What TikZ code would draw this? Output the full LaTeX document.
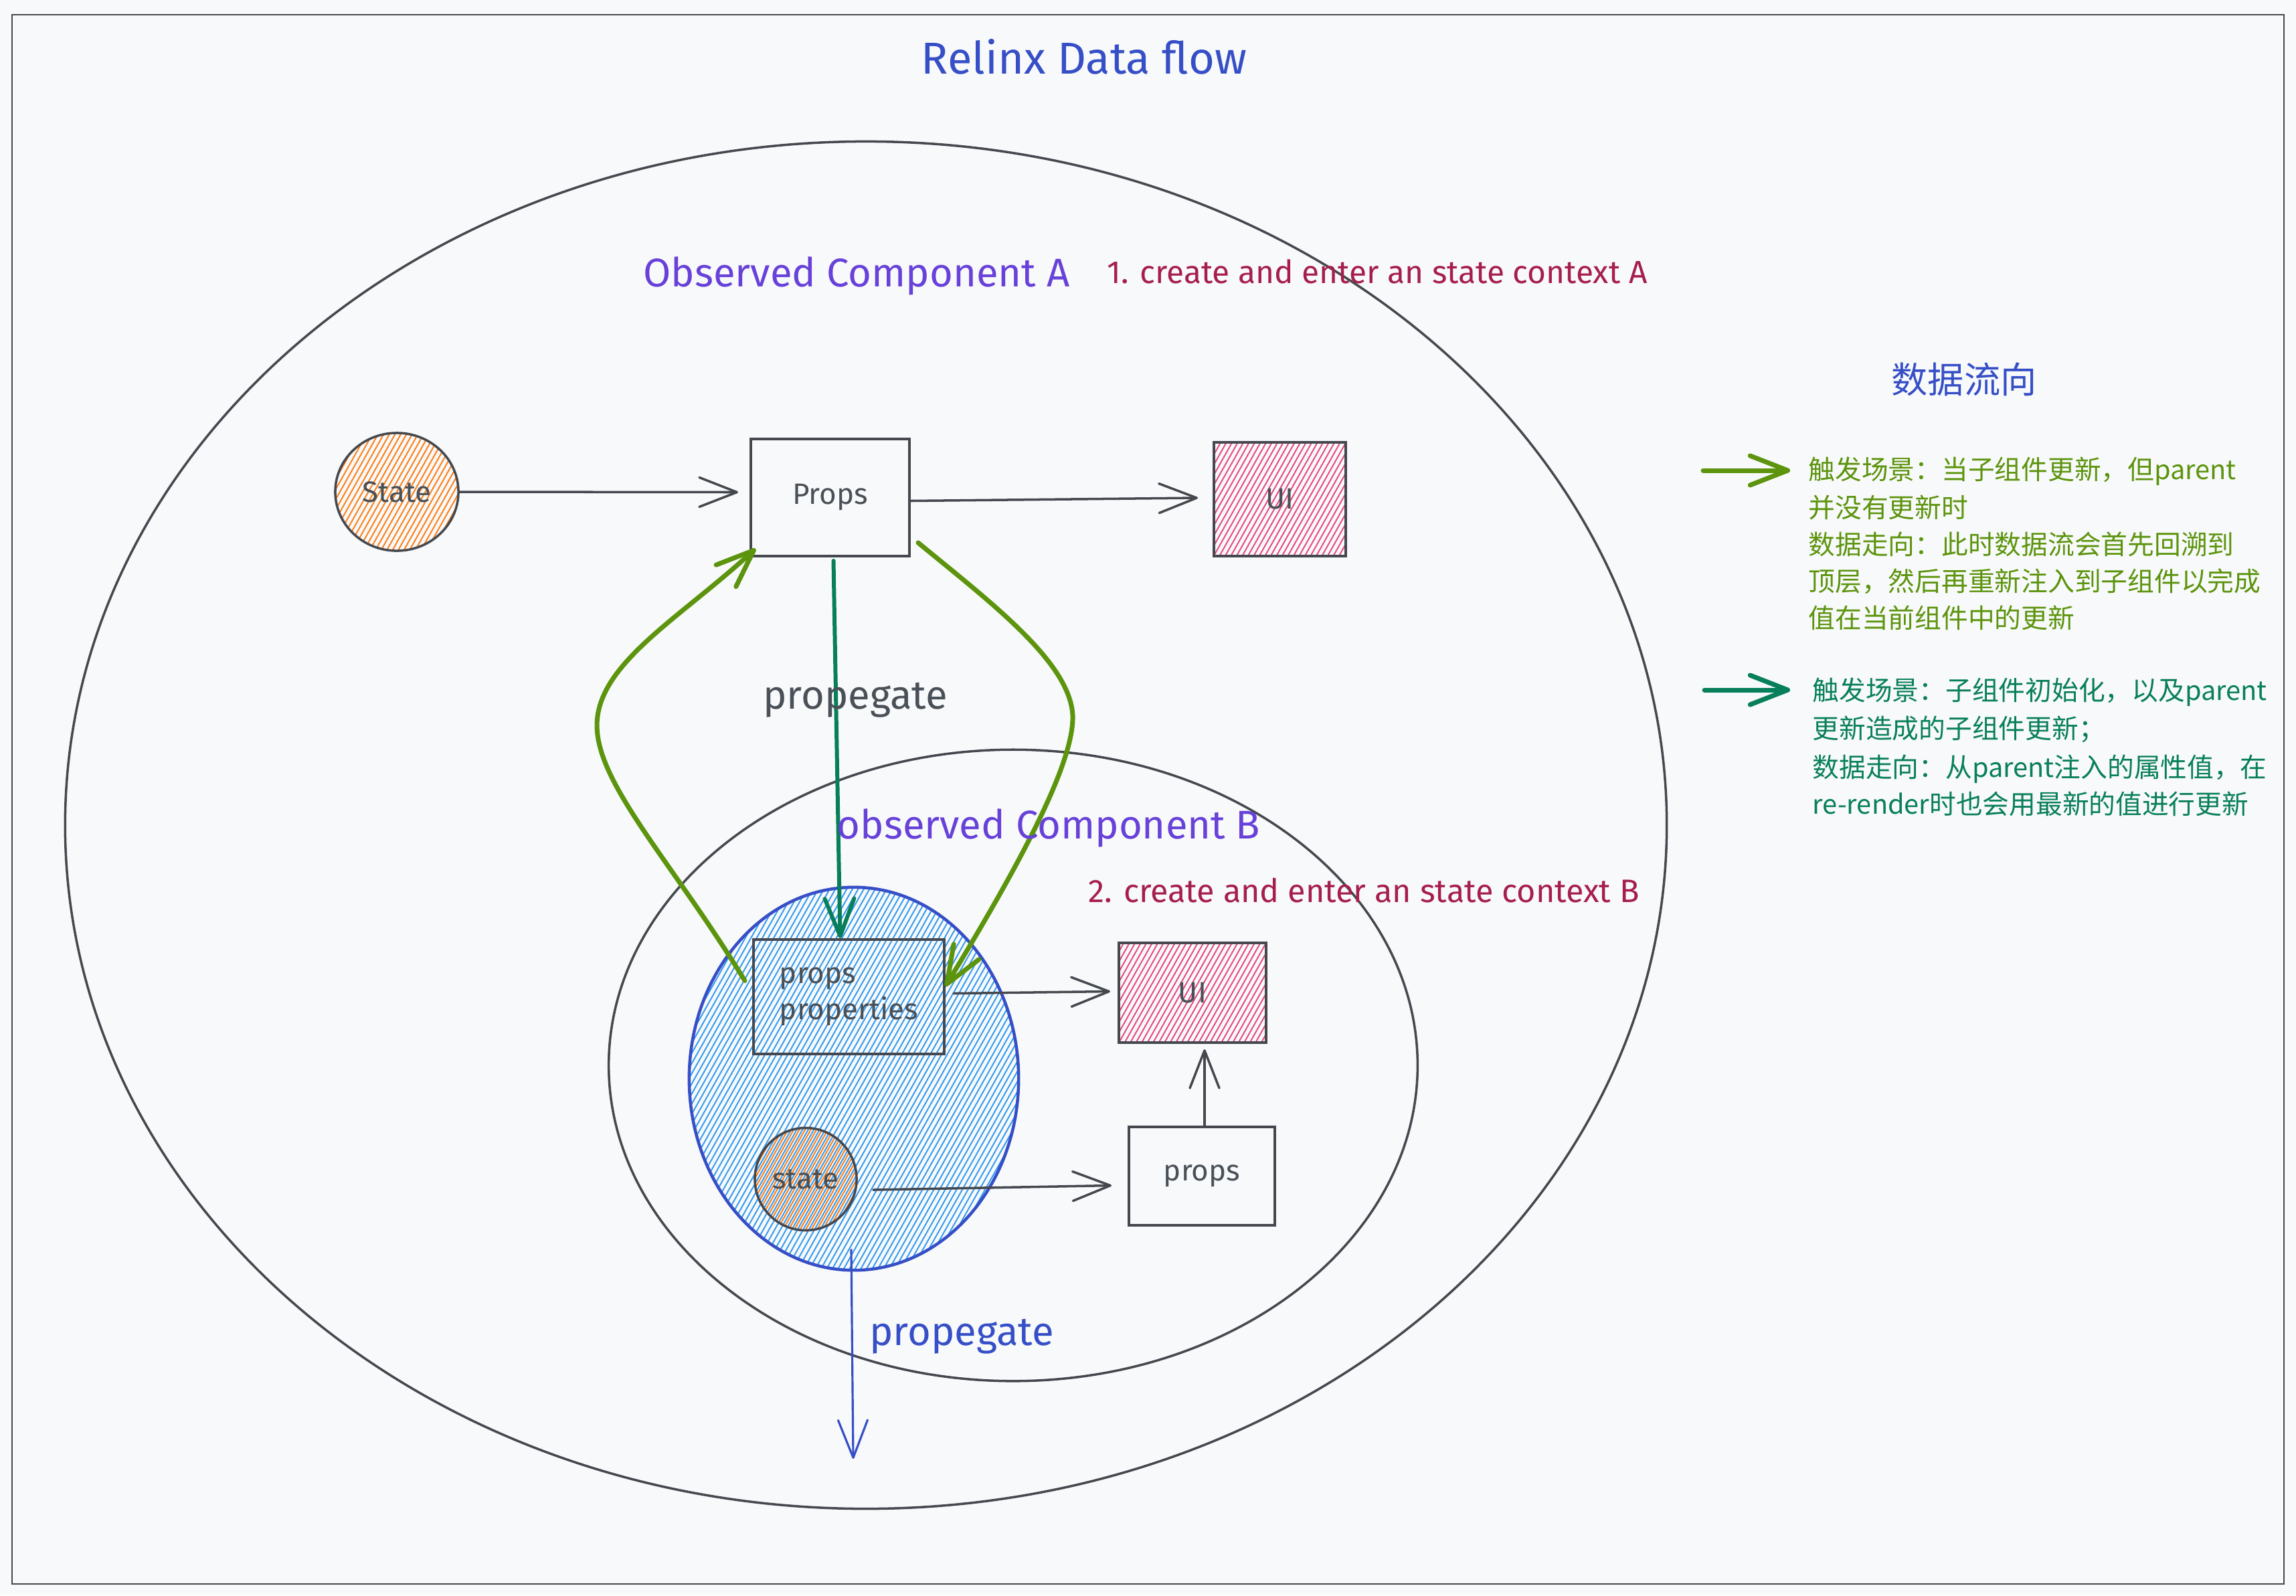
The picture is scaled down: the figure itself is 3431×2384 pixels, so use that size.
\documentclass[tikz,border=0pt]{standalone}
\usepackage{fontspec}
\setmainfont{Fira Sans}
\newfontfamily\cjk{Noto Sans CJK SC}
\usetikzlibrary{arrows.meta,shapes.geometric,calc}
\definecolor{bg}{HTML}{F8F9FA}
\definecolor{ink}{HTML}{45494F}
\definecolor{txtgray}{HTML}{495057}
\definecolor{xblue}{HTML}{364FC7}
\definecolor{xviolet}{HTML}{6741D9}
\definecolor{xcrimson}{HTML}{A61E4D}
\definecolor{xlime}{HTML}{5C940D}
\definecolor{xteal}{HTML}{087F5B}
\definecolor{hblue}{HTML}{339AF0}
\definecolor{hpink}{HTML}{E64980}
\definecolor{horange}{HTML}{FD7E14}
\newcommand\fsz[1]{\fontsize{#1}{#1}\selectfont}
\tikzset{
  hatch/.style={path picture={
    \foreach \k in {-56,...,56}{
      \draw[#1,line width=0.55pt] ($(path picture bounding box.center)+(\k*0.085cm-1.8cm,-3.2cm)$) -- ++(3.6cm,6.4cm);
    }}},
  boxnode/.style={draw=ink, line width=1.1pt, rectangle, inner sep=0pt, text=txtgray, font=\fsz{12.5}},
  ovalnode/.style={draw=ink, line width=1pt, ellipse, inner sep=0pt, text=txtgray, font=\fsz{12.5}},
  conn/.style={draw=ink, line width=1pt, line cap=round, -{Straight Barb[length=16pt,width=12.5pt,round]}},
  bigconn/.style={line width=2pt, line cap=round, -{Straight Barb[length=16pt,width=12.5pt,round]}},
  legline/.style={anchor=base west, inner sep=0pt, font=\cjk\fsz{11.3}},
}
\begin{document}
\begin{tikzpicture}[x=0.01cm,y=-0.01cm]
\useasboundingbox (0,0) rectangle (3431,2384);
\fill[bg] (0,0) rectangle (3431,2384);
\draw[ink, line width=0.7pt] (18,22) rectangle (3413,2367);

% containers
\node[ovalnode, minimum width=23.92cm, minimum height=20.42cm] (ea) at (1294,1233) {};
\node[ovalnode, minimum width=12.08cm, minimum height=9.43cm] (eb) at (1514,1592) {};
\node[ovalnode, draw=xblue, line width=1.3pt, hatch=hblue, minimum width=4.92cm, minimum height=5.72cm] (be) at (1276,1612) {};

% component A
\node[ovalnode, hatch=horange, minimum width=1.84cm, minimum height=1.76cm] (sa) at (593,735) {State};
\node[boxnode, minimum width=2.37cm, minimum height=1.75cm] (pa) at (1240.5,743.5) {Props};
\node[boxnode, hatch=hpink, minimum width=1.97cm, minimum height=1.70cm] (ua) at (1912.5,746) {UI};

% component B
\node[boxnode, minimum width=2.85cm, minimum height=1.71cm, align=left] (pp) at (1268.5,1489.5) {props\\[3pt]properties};
\node[boxnode, hatch=hpink, minimum width=2.20cm, minimum height=1.49cm] (ub) at (1782,1483.5) {UI};
\node[boxnode, minimum width=2.18cm, minimum height=1.47cm] (pb) at (1796,1757.5) {props};
\node[ovalnode, hatch=horange, minimum width=1.52cm, minimum height=1.53cm] (sb) at (1204,1762) {state};

% gray connectors
\draw[conn] (sa.east) -- ([shift={(-17,-8)}]pa.west);
\draw[conn] ([shift={(0,5)}]pa.east) -- ([shift={(-22,-2)}]ua.west);
\draw[conn] ([shift={(12,-5)}]pp.east) -- ([shift={(-11,-2)}]ub.west);
\draw[conn] ([shift={(23,16)}]sb.east) -- ([shift={(-24,14)}]pb.west);
\draw[conn] ([shift={(4,0)}]pb.north) -- ([shift={(18,8)}]ub.south);

% green / teal flows
\draw[bigconn, xlime] ([shift={(-11,-24)}]pp.west) .. controls (1000,1280) and (880,1160) .. (893,1070) .. controls (905,985) and (1020,920) .. ([shift={(9,-13)}]pa.south west);
\draw[bigconn, xlime] ([shift={(11,-22)}]pa.south east) .. controls (1480,900) and (1600,990) .. (1603,1070) .. controls (1605,1150) and (1500,1330) .. ([shift={(0,-16)}]pp.east);
\draw[bigconn, xteal, line width=1.7pt] ([shift={(5,5)}]pa.south) -- ([shift={(-13,0)}]pp.north);

% blue propagate
\coordinate (bd) at (1275,2180);
\draw[conn, draw=xblue, line width=0.9pt] ([shift={(-4,-33)}]be.south) -- (bd);

% texts
\node[text=xblue, font=\fsz{19}] (title) at (1620,85) {Relinx Data flow};
\node[text=xviolet, font=\fsz{17}, anchor=base] (ta) at (1280,428) {Observed Component A};
\node[text=xcrimson, font=\fsz{13.6}, anchor=base] (ca) at (2058,423) {1. create and enter an state context A};
\node[text=xviolet, font=\fsz{17}, anchor=base] (tb) at (1567,1253) {observed Component B};
\node[text=xcrimson, font=\fsz{13.8}, anchor=base] (cb) at (2038,1348) {2. create and enter an state context B};
\node[text=txtgray, font=\fsz{17}, anchor=base] (pg1) at (1278,1059) {propegate};
\node[text=xblue, font=\fsz{17}, anchor=base] (pg2) at (1437,2010) {propegate};

% legend
\node[text=xblue, font=\cjk\fsz{15.4}] (lt) at (2935,567) {数据流向};
\coordinate (l1s) at (2545,703);
\coordinate (l1e) at (2675,703);
\draw[bigconn, xlime] (l1s) -- (l1e);
\node[legline, text=xlime] (l1a) at (2702,716) {触发场景：当子组件更新，但parent};
\node[legline, text=xlime] (l1b) at (2702,773) {并没有更新时};
\node[legline, text=xlime] (l1c) at (2702,828) {数据走向：此时数据流会首先回溯到};
\node[legline, text=xlime] (l1d) at (2702,883) {顶层，然后再重新注入到子组件以完成};
\node[legline, text=xlime] (l1e2) at (2702,938) {值在当前组件中的更新};
\coordinate (l2s) at (2547,1031);
\coordinate (l2e) at (2675,1031);
\draw[bigconn, xteal] (l2s) -- (l2e);
\node[legline, text=xteal] (l2a) at (2708,1046) {触发场景：子组件初始化，以及parent};
\node[legline, text=xteal] (l2b) at (2708,1103) {更新造成的子组件更新；};
\node[legline, text=xteal] (l2c) at (2708,1161) {数据走向：从parent注入的属性值，在};
\node[legline, text=xteal] (l2d) at (2708,1216) {re-render时也会用最新的值进行更新};
\end{tikzpicture}
\end{document}
